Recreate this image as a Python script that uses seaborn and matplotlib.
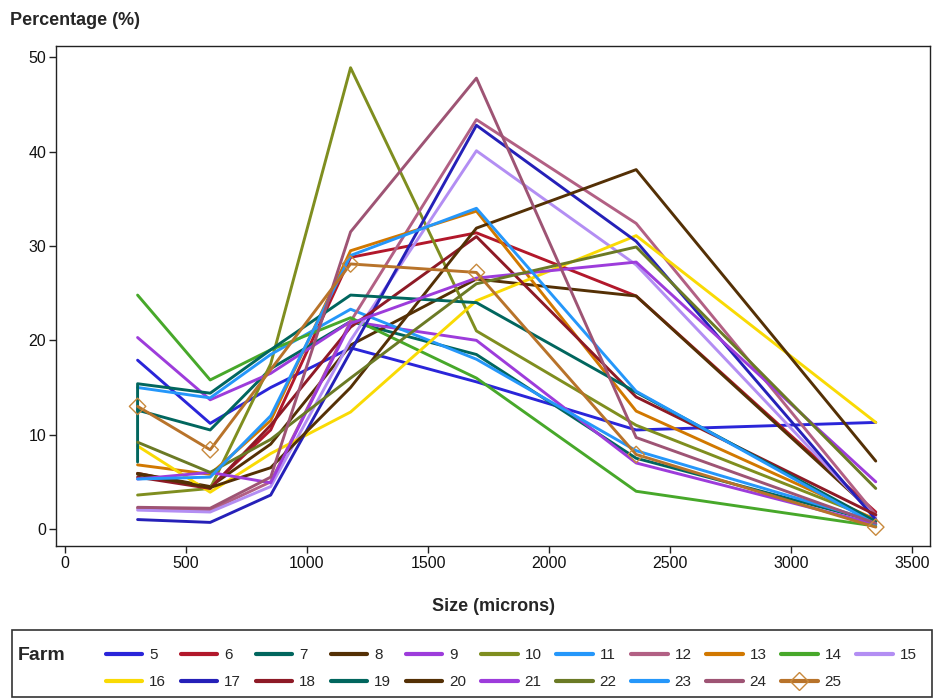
import numpy as np
import pandas as pd
import matplotlib
matplotlib.use("Agg")
import matplotlib.pyplot as plt
from matplotlib.lines import Line2D
from matplotlib.patches import Rectangle
import seaborn as sns

sns.set_theme(style="white")
plt.rcParams['font.family'] = ['Liberation Sans', 'DejaVu Sans']

# ---- data (Size in microns, Percentage) ----
sizes = [300, 600, 850, 1180, 1700, 2360, 3350]
sizes_19 = [300, 300, 600, 850, 1180, 1700, 2360, 3350]

farm_5 = [17.9, 11.2, 15.0, 19.2, 15.6, 10.5, 11.3]
farm_6 = [5.9, 4.4, 10.5, 28.8, 31.4, 24.7, 1.8]
farm_7 = [12.6, 10.5, 17.0, 22.0, 18.5, 7.5, 0.8]
farm_8 = [5.9, 4.5, 9.0, 19.5, 26.5, 24.7, 1.5]
farm_9 = [20.3, 13.7, 16.5, 22.0, 20.0, 7.0, 0.5]
farm_10 = [3.6, 4.3, 17.5, 48.9, 21.0, 11.0, 1.0]
farm_11 = [15.0, 13.9, 18.5, 23.3, 18.0, 8.3, 0.8]
farm_12 = [2.2, 2.0, 5.0, 22.0, 43.4, 32.4, 1.5]
farm_13 = [6.8, 5.8, 11.5, 29.5, 33.7, 12.5, 1.0]
farm_14 = [24.8, 15.8, 19.0, 22.4, 16.0, 4.0, 0.3]
farm_15 = [2.0, 1.8, 4.5, 20.0, 40.1, 28.0, 1.2]
farm_16 = [8.8, 3.9, 8.0, 12.4, 24.2, 31.1, 11.3]
farm_17 = [1.0, 0.7, 3.6, 18.8, 42.8, 30.5, 1.0]
farm_18 = [5.5, 4.3, 11.0, 21.4, 31.0, 14.0, 1.5]
farm_19 = [7.1, 15.4, 14.4, 19.0, 24.8, 24.0, 14.5, 0.8]
farm_20 = [5.8, 4.4, 6.5, 15.0, 31.9, 38.1, 7.2]
farm_21 = [5.3, 6.0, 4.9, 21.8, 26.6, 28.3, 5.0]
farm_22 = [9.2, 6.0, 9.5, 16.0, 26.0, 29.9, 4.3]
farm_23 = [5.3, 5.5, 12.0, 29.0, 34.0, 14.6, 0.5]
farm_24 = [2.3, 2.2, 5.5, 31.5, 47.8, 9.7, 0.6]
farm_25 = [13.0, 8.4, None, 28.1, 27.2, 7.9, 0.2]

farms = list(range(5, 26))
farm_values = {5: farm_5, 6: farm_6, 7: farm_7, 8: farm_8, 9: farm_9, 10: farm_10,
               11: farm_11, 12: farm_12, 13: farm_13, 14: farm_14, 15: farm_15,
               16: farm_16, 17: farm_17, 18: farm_18, 19: farm_19, 20: farm_20,
               21: farm_21, 22: farm_22, 23: farm_23, 24: farm_24, 25: farm_25}

base_colors = ["#2A25D9", "#B2182B", "#01665E", "#543005", "#9D3CDB", "#7F8E1F",
               "#2597FA", "#B26084", "#D17800", "#47A82A", "#B38EF3", "#F9DA04"]
palette = {f: base_colors[i % 12] for i, f in enumerate(farms)}
palette[17] = "#2520B8"
palette[18] = "#8E1A26"
palette[22] = "#6B7A25"
palette[24] = "#9E5474"
palette[25] = "#B8732A"

rows = []
for f in farms:
    xs = sizes_19 if f == 19 else sizes
    for order, (x, y) in enumerate(zip(xs, farm_values[f])):
        if y is not None:
            rows.append({"Farm": f, "Size": x, "Pct": y, "order": order})
df = pd.DataFrame(rows).sort_values(["Farm", "order"])

fig = plt.figure(figsize=(9.43, 6.98), dpi=100)
ax = fig.add_axes([0.0594, 0.2178, 0.9268, 0.7162])

sns.lineplot(data=df, x="Size", y="Pct", hue="Farm", palette=palette,
             estimator=None, sort=False, linewidth=2.1, legend=False, ax=ax)
d25 = df[df["Farm"] == 25]
sns.scatterplot(data=d25, x="Size", y="Pct", marker="D", s=70,
                facecolor="none", edgecolor="#C8893C", linewidth=1.0,
                legend=False, ax=ax, zorder=5)

ax.set_xlim(-37, 3574)
ax.set_ylim(-1.8, 51.2)
ax.set_xticks(range(0, 3501, 500))
ax.set_yticks(range(0, 51, 10))
ax.set_xlabel("")
ax.set_ylabel("")
ax.tick_params(axis="both", which="major", direction="out", length=5, width=1,
               bottom=True, left=True, colors="#222222", labelsize=11.5,
               labelcolor="#111111", pad=2)
for s in ax.spines.values():
    s.set_color("#222222")
    s.set_linewidth(1.0)

fig.text(0.0106, 0.971, "Percentage (%)", fontsize=13, fontweight="bold",
         ha="left", va="center")
fig.text(0.523, 0.131, "Size (microns)", fontsize=13, fontweight="bold",
         ha="center", va="center")

# legend
handles = {}
for f in farms:
    if f == 25:
        handles[f] = Line2D([], [], color=palette[f], lw=3, marker="D",
                            markersize=9, markerfacecolor="none",
                            markeredgecolor="#C8893C")
    else:
        handles[f] = Line2D([], [], color=palette[f], lw=3)
row1 = list(range(5, 16))
row2 = list(range(16, 26))
order = []
for i in range(11):
    order.append(row1[i])
    if i < len(row2):
        order.append(row2[i])
leg = fig.legend([handles[f] for f in order], [str(f) for f in order],
                 ncol=11, loc="center left", bbox_to_anchor=(0.104, 0.042),
                 frameon=False, fontsize=11, handlelength=2.4,
                 handletextpad=0.45, columnspacing=0.95, labelspacing=0.85,
                 borderpad=0)
fig.text(0.019, 0.0616, "Farm", fontsize=14, fontweight="bold",
         ha="left", va="center")
fig.patches.append(Rectangle((0.0127, 0.0014), 0.9756, 0.096,
                             transform=fig.transFigure, fill=False,
                             edgecolor="#333333", linewidth=1.2))

fig.savefig("out.png", dpi=100)
